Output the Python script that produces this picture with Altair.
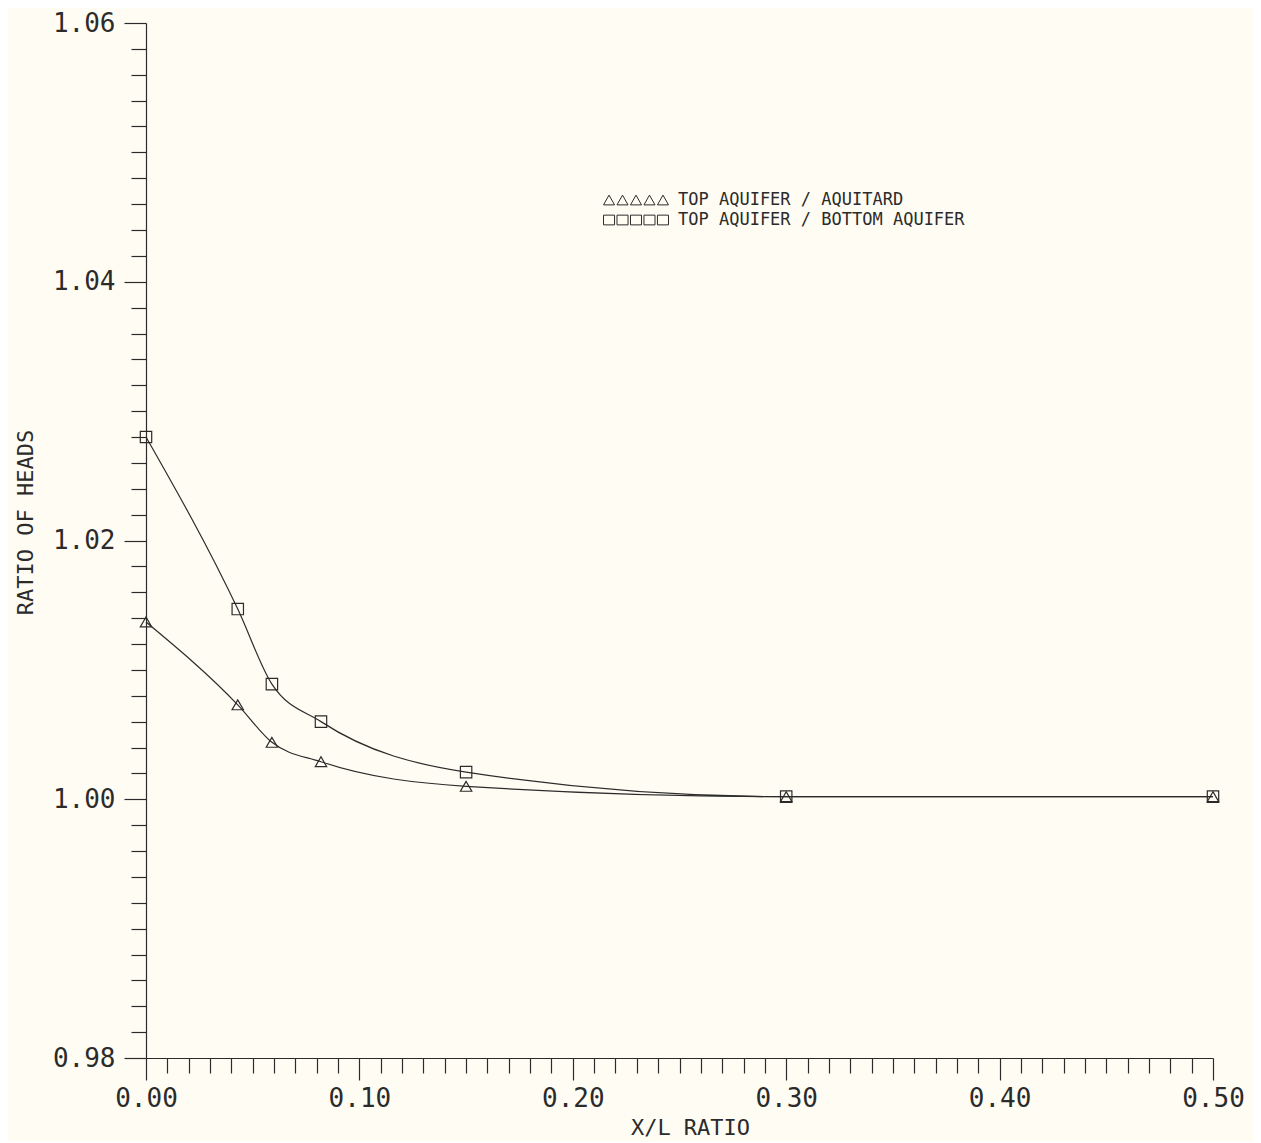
import altair as alt
import pandas as pd

# ---- data ----
x_ratio = [0.0, 0.043, 0.059, 0.082, 0.150, 0.300, 0.500]
aquitard = [1.0137, 1.0073, 1.0044, 1.0029, 1.0010, 1.0002, 1.0002]
bottom_aquifer = [1.0280, 1.0147, 1.0089, 1.0060, 1.0021, 1.0002, 1.0002]
series_names = ["TOP AQUIFER / AQUITARD", "TOP AQUIFER / BOTTOM AQUIFER"]

x_ticks = [round(i * 0.01, 2) for i in range(51)]
y_ticks = [round(0.98 + i * 0.002, 3) for i in range(41)]

rows = []
for xv, yv in zip(x_ratio, aquitard):
    rows.append({"x": xv, "y": yv, "series": series_names[0]})
for xv, yv in zip(x_ratio, bottom_aquifer):
    rows.append({"x": xv, "y": yv, "series": series_names[1]})
df = pd.DataFrame(rows)

INK = "#2b2b2b"
FONT = "DejaVu Sans Mono"

tri5 = ("M-1,0.15L-0.66,0.15L-0.83,-0.15Z M-0.585,0.15L-0.245,0.15L-0.415,-0.15Z "
        "M-0.17,0.15L0.17,0.15L0,-0.15Z M0.245,0.15L0.585,0.15L0.415,-0.15Z "
        "M0.66,0.15L1,0.15L0.83,-0.15Z")
sq5 = ("M-1,-0.15L-0.66,-0.15L-0.66,0.15L-1,0.15Z M-0.585,-0.15L-0.245,-0.15L-0.245,0.15L-0.585,0.15Z "
       "M-0.17,-0.15L0.17,-0.15L0.17,0.15L-0.17,0.15Z M0.245,-0.15L0.585,-0.15L0.585,0.15L0.245,0.15Z "
       "M0.66,-0.15L1,-0.15L1,0.15L0.66,0.15Z")

x_major = "abs(datum.value*10 - round(datum.value*10)) < 0.000001"
y_major = "abs(datum.value*50 - round(datum.value*50)) < 0.000001"

x_enc = alt.X(
    "x:Q",
    scale=alt.Scale(domain=[0, 0.5], nice=False, zero=False),
    axis=alt.Axis(
        values=x_ticks,
        tickCount=500,
        labelExpr=f"{x_major} ? format(datum.value, '.2f') : ''",
        tickSize={"condition": {"test": x_major, "value": 22}, "value": 15},
        labelPadding=5,
        labelFlush=False,
        labelOverlap=False,
        title="X/L RATIO",
        titleX=544,
        titleY=76,
        titleAlign="center",
        titleBaseline="alphabetic",
        titleFontSize=22,
    ),
)
y_enc = alt.Y(
    "y:Q",
    scale=alt.Scale(domain=[0.98, 1.06], nice=False, zero=False),
    axis=alt.Axis(
        values=y_ticks,
        tickCount=500,
        labelExpr=f"{y_major} ? format(datum.value, '.2f') : ''",
        tickSize={"condition": {"test": y_major, "value": 22}, "value": 15},
        labelPadding=9,
        labelFlush=False,
        labelOverlap=False,
        title="RATIO OF HEADS",
        titleX=-121,
        titleY=499,
        titleAngle=270,
        titleAlign="center",
        titleBaseline="middle",
        titleFontSize=22,
    ),
)

lines = alt.Chart(df).mark_line(interpolate="monotone", color=INK, strokeWidth=1.2).encode(
    x=x_enc, y=y_enc, detail="series:N"
)

points = alt.Chart(df).mark_point(filled=False, color=INK, size=130, strokeWidth=1.2, opacity=1).encode(
    x="x:Q",
    y="y:Q",
    shape=alt.Shape(
        "series:N",
        scale=alt.Scale(domain=series_names, range=["triangle-up", "square"]),
        legend=None,
    ),
)


def legend_entry(name, path, ly):
    return alt.Chart(df).transform_filter("false").mark_point(
        filled=False, color=INK, strokeWidth=1, opacity=1
    ).encode(
        x="x:Q",
        y="y:Q",
        shape=alt.Shape(
            "series:N",
            scale=alt.Scale(domain=[name], range=[path]),
            legend=alt.Legend(
                title=None,
                orient="none",
                legendX=457,
                legendY=ly,
                symbolSize=4225,
                symbolStrokeWidth=1,
                symbolStrokeColor=INK,
                symbolFillColor="transparent",
                labelFont=FONT,
                labelFontSize=17,
                labelColor=INK,
                labelOffset=9,
                padding=0,
                labelLimit=600,
            ),
        ),
    )


leg1 = legend_entry(series_names[0], tri5, 144)
leg2 = legend_entry(series_names[1], sq5, 164)

chart = (
    alt.layer(lines, points, leg1, leg2)
    .resolve_scale(shape="independent")
    .resolve_legend(shape="independent")
    .properties(
        width=1067,
        height=1035,
        autosize=alt.AutoSizeParams(type="none"),
        padding={"left": 138, "top": 15, "right": 40, "bottom": 84},
        background="#fffdf3",
    )
    .configure_view(stroke=None)
    .configure_axis(
        grid=False,
        domainColor=INK,
        domainWidth=1.2,
        tickColor=INK,
        tickWidth=1.2,
        labelFont=FONT,
        labelFontSize=26,
        labelColor=INK,
        titleFont=FONT,
        titleFontWeight="normal",
        titleColor=INK,
    )
)

chart.save("out.html", embed_options={"renderer": "svg", "actions": False})
